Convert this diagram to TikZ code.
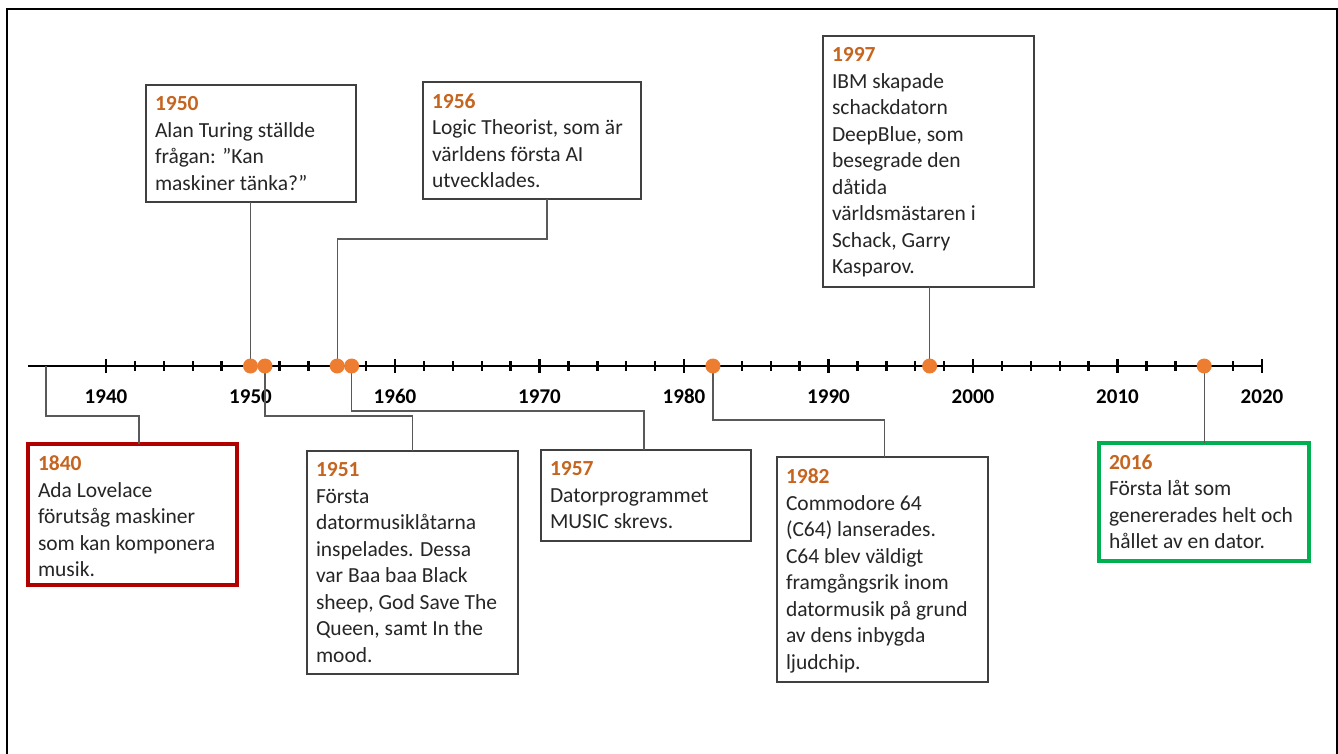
\documentclass[tikz,border=0pt]{standalone}
\usepackage{fontspec}
\setmainfont{Carlito}[Ligatures=NoCommon]
\usetikzlibrary{calc}
\definecolor{yr}{HTML}{C5651F}
\definecolor{dotc}{HTML}{ED7D31}
\definecolor{boxc}{HTML}{404040}
\definecolor{connc}{HTML}{595959}
\definecolor{redb}{HTML}{B00000}
\definecolor{greenb}{HTML}{00B050}
\definecolor{txt}{HTML}{262626}
\begin{document}
\begin{tikzpicture}[x=1pt,y=-1pt,
  evbox/.style={draw=boxc, line width=1.1pt, fill=white, inner sep=0pt, outer sep=0pt, anchor=north west},
  redbox/.style={evbox, draw=redb, line width=3.6pt},
  greenbox/.style={evbox, draw=greenb, line width=3.6pt},
  evtext/.style={anchor=north west, inner sep=0pt, outer sep=0pt, align=left, text=txt,
    font=\fontsize{21.5}{26.5}\selectfont},
  conn/.style={draw=connc, line width=1.2pt},
  axisline/.style={line width=2.6pt, black},
  dot/.style={circle, fill=dotc, inner sep=0pt, minimum size=15pt},
  yrlab/.style={anchor=base, inner sep=0pt, font=\fontsize{21}{25}\selectfont\bfseries}]
\useasboundingbox (0,0) rectangle (1338,753);
% outer frame
\draw[line width=2pt, black] (7,760) -- (7,9) -- (1336.5,9) -- (1336.5,760);

% axis
\coordinate (axL) at (28,366);
\coordinate (axR) at (1262,366);
\draw[axisline] (axL) -- (axR);
\foreach \k in {0,...,40} {
  \draw[line width=2.4pt] ({106+\k*28.9},361) -- ({106+\k*28.9},371);
}
\foreach \k/\yy in {0/1940,1/1950,2/1960,3/1970,4/1980,5/1990,6/2000,7/2010,8/2020} {
  \draw[line width=2.6pt] ({106+\k*144.5},359) -- ({106+\k*144.5},373);
  \node[yrlab] (lab\yy) at ({106+\k*144.5},403) {\yy};
}

% boxes
\node[redbox, minimum width=209pt, minimum height=141pt] (b1840) at (28,444) {};
\node[evbox, minimum width=210pt, minimum height=117pt] (b1950) at (146,85) {};
\node[evbox, minimum width=218pt, minimum height=117pt] (b1956) at (423,82) {};
\node[evbox, minimum width=211pt, minimum height=251pt] (b1997) at (823,36) {};
\node[evbox, minimum width=211pt, minimum height=223pt] (b1951) at (307,451) {};
\node[evbox, minimum width=210pt, minimum height=91pt] (b1957) at (541,450) {};
\node[evbox, minimum width=211pt, minimum height=225pt] (b1982) at (777,457) {};
\node[greenbox, minimum width=210pt, minimum height=118pt] (b2016) at (1099,443) {};

% texts
\node[evtext] (t1840) at ($(b1840.north west)+(10,12)$) {\textcolor{yr}{\bfseries 1840}\\Ada Lovelace\\förutsåg maskiner\\som kan komponera\\musik.};
\node[evtext] (t1950) at ($(b1950.north west)+(9,11.7)$) {\textcolor{yr}{\bfseries 1950}\\Alan Turing ställde\\frågan: ”Kan\\maskiner tänka?”};
\node[evtext] (t1956) at ($(b1956.north west)+(9,11.7)$) {\textcolor{yr}{\bfseries 1956}\\Logic Theorist, som är\\världens första AI\\utvecklades.};
\node[evtext] (t1997) at ($(b1997.north west)+(9,11.7)$) {\textcolor{yr}{\bfseries 1997}\\IBM skapade\\schackdatorn\\DeepBlue, som\\besegrade den\\dåtida\\världsmästaren i\\Schack, Garry\\Kasparov.};
\node[evtext] (t1951) at ($(b1951.north west)+(9,11.7)$) {\textcolor{yr}{\bfseries 1951}\\Första\\datormusiklåtarna\\inspelades. Dessa\\var Baa baa Black\\sheep, God Save The\\Queen, samt In the\\mood.};
\node[evtext] (t1957) at ($(b1957.north west)+(9,11.7)$) {\textcolor{yr}{\bfseries 1957}\\Datorprogrammet\\MUSIC skrevs.};
\node[evtext] (t1982) at ($(b1982.north west)+(9,11.7)$) {\textcolor{yr}{\bfseries 1982}\\Commodore 64\\(C64) lanserades.\\C64 blev väldigt\\framgångsrik inom\\datormusik på grund\\av dens inbygda\\ljudchip.};
\node[evtext] (t2016) at ($(b2016.north west)+(10,11.7)$) {\textcolor{yr}{\bfseries 2016}\\Första låt som\\genererades helt och\\hållet av en dator.};

% dot positions
\coordinate (p1840) at (46,366);
\foreach \yy in {1950,1951,1956,1957,1982,1997,2016} {
  \coordinate (y\yy) at ({106+(\yy-1940)*14.45},366);
}

% connectors
\draw[conn] (p1840) |- ++(93,50) -- ($(b1840.north west)+(111,0)$);
\draw[conn] (y1950) -- (y1950 |- b1950.south);
\draw[conn] (y1951) |- ($(b1951.north)+(0,-35)$) -- (b1951.north);
\draw[conn] (y1956) |- ($(b1956.south)+(15,40)$) -- ($(b1956.south)+(15,0)$);
\draw[conn] (y1957) |- ($(b1957.north)+(-2,-39)$) -- ($(b1957.north)+(-2,0)$);
\draw[conn] (y1982) |- ($(b1982.north)+(2,-37)$) -- ($(b1982.north)+(2,0)$);
\draw[conn] (y1997) -- (y1997 |- b1997.south);
\draw[conn] (y2016) -- (y2016 |- b2016.north);

% dots
\foreach \yy in {1950,1951,1956,1957,1982,1997,2016} {
  \node[dot] (d\yy) at (y\yy) {};
}
\end{tikzpicture}
\end{document}
